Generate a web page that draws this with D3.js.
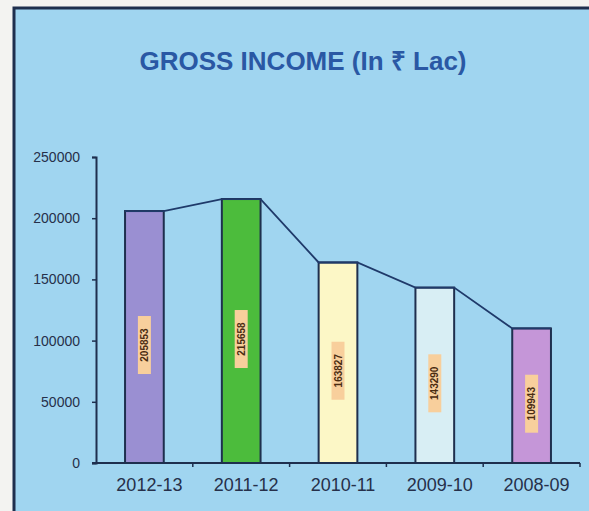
<!DOCTYPE html>
<html>
<head>
<meta charset="utf-8">
<script src="https://cdn.jsdelivr.net/npm/d3@7"></script>
<style>
  html, body { margin: 0; padding: 0; background: #f3f3f1; }
  svg { display: block; }
</style>
</head>
<body>
<script>
// Gross income by financial year (₹ lakh)
const years = ["2012-13", "2011-12", "2010-11", "2009-10", "2008-09"];
const income = [205853, 215658, 163827, 143290, 109943];
const barColors = ["#9a8fd2", "#4cbc3c", "#fcf7c6", "#d8eef4", "#c596d8"];
const yTicks = [0, 50000, 100000, 150000, 200000, 250000];
const title = "GROSS INCOME (In ₹ Lac)";

const W = 589, H = 511;
const svg = d3.select("body").append("svg").attr("width", W).attr("height", H);

// panel with dark frame on the left and top
svg.append("rect").attr("x", 14).attr("y", 8).attr("width", W).attr("height", H)
  .attr("fill", "#a0d5f0").attr("stroke", "#1e2f4e").attr("stroke-width", 3);

svg.append("text")
  .attr("x", 303).attr("y", 70)
  .attr("text-anchor", "middle")
  .attr("font-family", "Liberation Sans, Arial, sans-serif")
  .attr("font-weight", "bold").attr("font-size", 26)
  .attr("fill", "#2a58a4")
  .text(title);

const plot = { left: 96, right: 580, top: 157, bottom: 463 };

const x = d3.scaleBand().domain(years).range([plot.left, plot.right]).paddingInner(0.6).paddingOuter(0.3);
const xBand = d3.scaleBand().domain(years).range([plot.left, plot.right]);
const y = d3.scaleLinear().domain([0, 250000]).range([plot.bottom, plot.top]);

const axisColor = "#1e2f4e";
const textColor = "#26304a";

// y axis
const yAxis = svg.append("g").attr("transform", `translate(${plot.left},0)`)
  .call(d3.axisLeft(y).tickValues(yTicks).tickFormat(d3.format("d")).tickSize(4).tickPadding(12));
yAxis.select(".domain").attr("stroke", axisColor).attr("stroke-width", 2);
yAxis.selectAll(".tick line").attr("stroke", axisColor).attr("stroke-width", 1.5);
yAxis.selectAll(".tick text")
  .attr("font-family", "Liberation Sans, Arial, sans-serif")
  .attr("font-size", 14).attr("fill", textColor);

// bars
svg.append("g").selectAll("rect").data(years).join("rect")
  .attr("x", d => x(d))
  .attr("width", x.bandwidth())
  .attr("y", (d, i) => y(income[i]))
  .attr("height", (d, i) => y(0) - y(income[i]))
  .attr("fill", (d, i) => barColors[i])
  .attr("stroke", "#1e2f4e").attr("stroke-width", 2);

// trend line through the bar tops
const pts = [];
years.forEach((d, i) => {
  pts.push([x(d), y(income[i])]);
  pts.push([x(d) + x.bandwidth(), y(income[i])]);
});
svg.append("path").datum(pts)
  .attr("d", d3.line())
  .attr("fill", "none").attr("stroke", "#1f3a6a").attr("stroke-width", 1.8);

// x axis with boundary ticks
const xAxisG = svg.append("g").attr("transform", `translate(0,${plot.bottom})`);
xAxisG.append("line").attr("x1", plot.left - 4).attr("x2", plot.right)
  .attr("stroke", axisColor).attr("stroke-width", 2);
xAxisG.selectAll("line.tk").data(years).join("line").attr("class", "tk")
  .attr("x1", d => xBand(d) + xBand.bandwidth()).attr("x2", d => xBand(d) + xBand.bandwidth())
  .attr("y1", 0).attr("y2", 4)
  .attr("stroke", axisColor).attr("stroke-width", 1.5);
xAxisG.selectAll("text").data(years).join("text")
  .attr("x", d => xBand(d) + xBand.bandwidth() / 2 + 5)
  .attr("y", 28)
  .attr("text-anchor", "middle")
  .attr("font-family", "Liberation Sans, Arial, sans-serif")
  .attr("font-size", 18).attr("fill", textColor)
  .text(d => d);

// value labels, rotated inside each bar
const labels = svg.append("g").selectAll("g").data(years).join("g")
  .attr("transform", (d, i) => {
    const cx = x(d) + x.bandwidth() / 2;
    const cy = (y(income[i]) + y(0)) / 2 + 8;
    return `translate(${cx},${cy}) rotate(-90)`;
  });
labels.append("rect")
  .attr("x", -29).attr("y", -6.5).attr("width", 58).attr("height", 13)
  .attr("fill", "#f8cf9c");
labels.append("text")
  .attr("text-anchor", "middle").attr("dy", "0.35em")
  .attr("font-family", "Liberation Sans, Arial, sans-serif")
  .attr("font-size", 10).attr("font-weight", "bold").attr("fill", "#4a2c12")
  .text((d, i) => income[i]);
</script>
</body>
</html>
